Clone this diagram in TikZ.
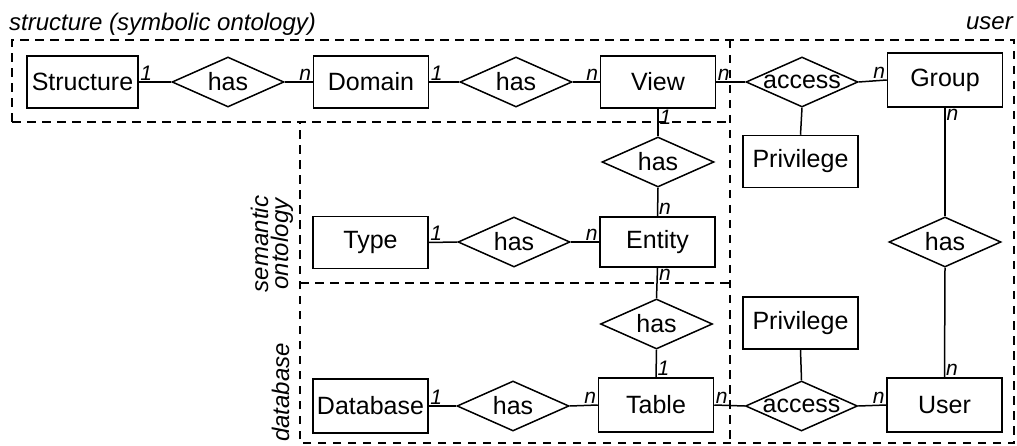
\documentclass[tikz,border=0pt]{standalone}
\usepackage{fontspec}
\setmainfont{Liberation Sans}
\usetikzlibrary{shapes.geometric}

\begin{document}
\begin{tikzpicture}[x=1pt,y=-1pt,
    every node/.style={font=\fontsize{25}{28}\selectfont},
    entbox/.style={draw,line width=1.5pt,minimum width=115pt,minimum height=52pt,inner sep=0pt},
    relbox/.style={draw,diamond,aspect=2.24,line width=1.5pt,minimum width=112pt,minimum height=50pt,inner sep=0pt},
    card/.style={font=\fontsize{21}{22}\selectfont\itshape,inner sep=1.5pt},
    region/.style={dash pattern=on 8.5pt off 6.5pt,line width=1.4pt},
    area/.style={font=\fontsize{24}{20}\selectfont\itshape,inner sep=0pt},
    link/.style={line width=1.5pt}]
    \useasboundingbox (0,0) rectangle (1017,446);
    % dashed regions
    \draw [region] (12,122) -- (12,40) -- (1014,40) -- (1014,443) -- (300,443) -- (300,122);
    \draw [region] (12,122) -- (730,122);
    \draw [region] (300,283) -- (730,283);
    \draw [region] (730,40) -- (730,443);
    \node [area,anchor=base west] (lblstruct) at (9,31) {structure (symbolic ontology)};
    \node [area,anchor=base east] (lbluser) at (1013,30) {user};
    \node [area,rotate=90,align=center] (lblsem) at (272,244) {semantic\\ontology};
    \node [area,rotate=90,anchor=base east] (lbldb) at (289,343) {database};
    % entities
    \node [entbox,minimum width=111pt] (structure) at (82.5,82) {Structure};
    \node [entbox] (domain) at (371,82) {Domain};
    \node [entbox] (view) at (658,82) {View};
    \node [entbox,minimum height=54pt] (group) at (945,80) {Group};
    \node [entbox] (privup) at (800.5,161.5) {Privilege};
    \node [entbox] (type) at (370.5,242.5) {Type};
    \node [entbox,minimum height=50pt] (entity) at (657.5,242) {Entity};
    \node [entbox] (privlow) at (800.5,323) {Privilege};
    \node [entbox,minimum height=54pt] (database) at (370.5,406) {Database};
    \node [entbox,minimum height=54pt] (table) at (656,405) {Table};
    \node [entbox,minimum height=54pt] (user) at (944.5,405) {User};
    % relations
    \node [relbox] (hasstruct) at (228,82) {has};
    \node [relbox] (hasdomain) at (516,82) {has};
    \node [relbox] (accview) at (802,82) {access};
    \node [relbox] (hasview) at (658,162) {has};
    \node [relbox] (hastype) at (514,242) {has};
    \node [relbox] (hasgroup) at (945,242) {has};
    \node [relbox] (hasentity) at (656.5,324) {has};
    \node [relbox] (hasdb) at (513,406) {has};
    \node [relbox] (acctable) at (801.5,406) {access};
    % connectors
    \draw [link] (structure.east) -- (hasstruct.west);
    \draw [link] (hasstruct.east) -- (domain.west);
    \draw [link] (domain.east) -- (hasdomain.west);
    \draw [link] (hasdomain.east) -- (view.west);
    \draw [link] (view.east) -- (accview.west);
    \draw [link] (accview.east) -- (group.west);
    \draw [link] (accview.south) -- (privup.north);
    \draw [link] (view.south) -- (hasview.north);
    \draw [link] (hasview.south) -- (entity.north);
    \draw [link] (type.east) -- (hastype.west);
    \draw [link] (hastype.east) -- (entity.west);
    \draw [link] (entity.south) -- (hasentity.north);
    \draw [link] (hasentity.south) -- (table.north);
    \draw [link] (database.east) -- (hasdb.west);
    \draw [link] (hasdb.east) -- (table.west);
    \draw [link] (table.east) -- (acctable.west);
    \draw [link] (acctable.east) -- (user.west);
    \draw [link] (acctable.north) -- (privlow.south);
    \draw [link] (group.south) -- (hasgroup.north);
    \draw [link] (hasgroup.south) -- (user.north);
    % cardinalities
    \node [card,anchor=south west] (c1) at (structure.east) {1};
    \node [card,anchor=south east] (c2) at (domain.west) {n};
    \node [card,anchor=south west] (c3) at (domain.east) {1};
    \node [card,anchor=south east] (c4) at (view.west) {n};
    \node [card,anchor=south west] (c5) at (view.east) {n};
    \node [card,anchor=south east] (c6) at (group.west) {n};
    \node [card,anchor=north west] (c7) at (view.south) {1};
    \node [card,anchor=south west] (c8) at (entity.north) {n};
    \node [card,anchor=south west] (c9) at (type.east) {1};
    \node [card,anchor=south east] (c10) at (entity.west) {n};
    \node [card,anchor=north west] (c11) at (entity.south) {n};
    \node [card,anchor=south west] (c12) at (table.north) {1};
    \node [card,anchor=south west] (c13) at (database.east) {1};
    \node [card,anchor=south east] (c14) at (table.west) {n};
    \node [card,anchor=south west] (c15) at (table.east) {n};
    \node [card,anchor=south east] (c16) at (user.west) {n};
    \node [card,anchor=north west] (c17) at (group.south) {n};
    \node [card,anchor=south west] (c18) at (user.north) {n};
\end{tikzpicture}
\end{document}
